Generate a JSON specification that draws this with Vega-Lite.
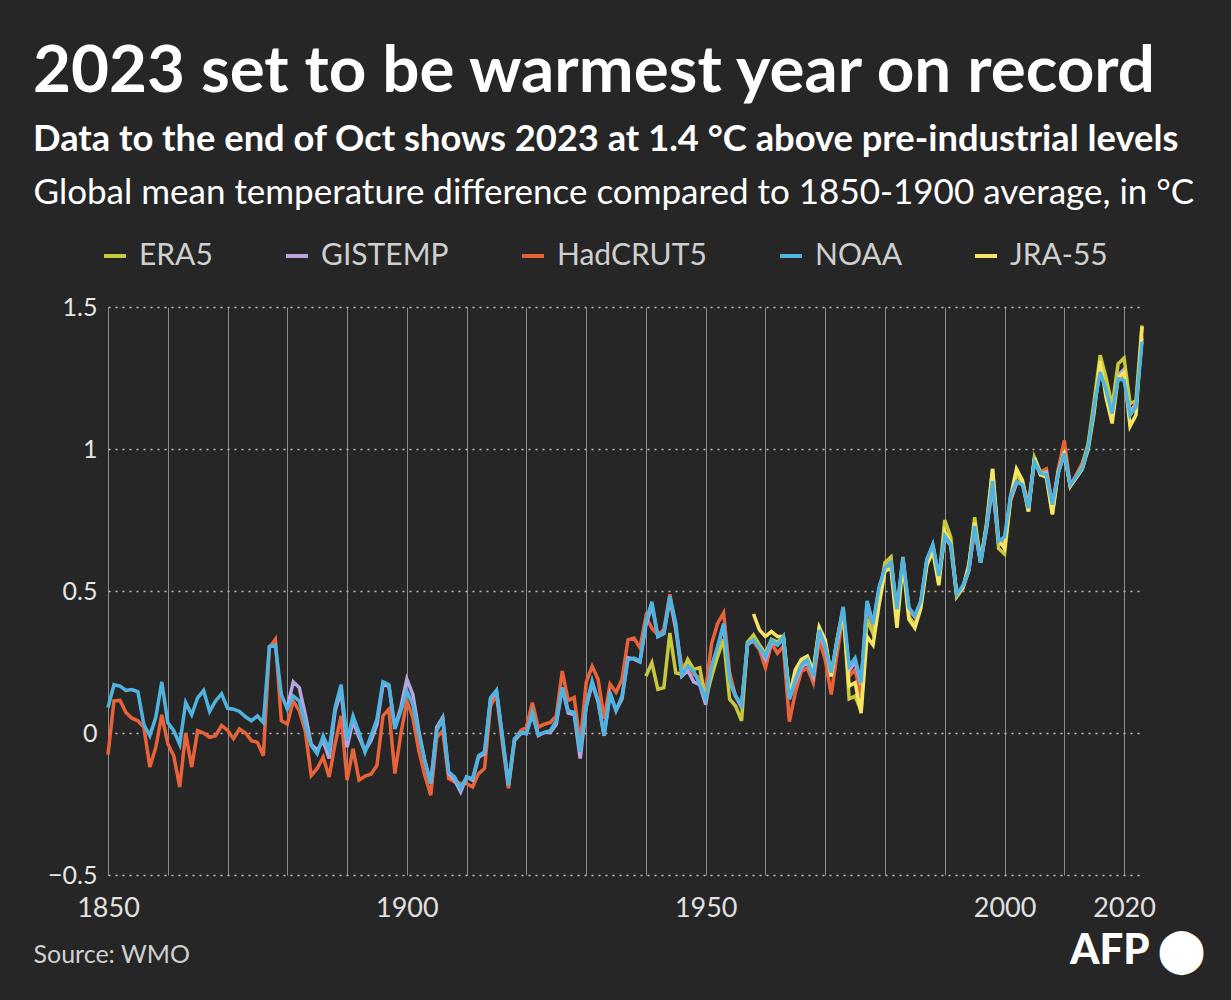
{
"$schema": "https://vega.github.io/schema/vega-lite/v6.json",
"width": 1034, "height": 568,
"autosize": {"type": "none"},
"padding": {"left": 108, "top": 307, "right": 89, "bottom": 125},
"background": "#262626",
"config": {"view": {"stroke": null}, "font": "Lato"},
"title": {"text": "2023 set to be warmest year on record", "subtitle": "Data to the end of Oct shows 2023 at 1.4 °C above pre-industrial levels", "anchor": "start", "frame": "bounds", "color": "white", "fontSize": 65.5, "fontWeight": "bold", "font": "Lato", "subtitleFont": "Lato", "subtitleColor": "white", "subtitleFontSize": 36.3, "subtitleFontWeight": "bold", "subtitlePadding": 16, "offset": 17},
"data": {"values": [
{"year":1850,"series":"HadCRUT5","value":-0.076},{"year":1851,"series":"HadCRUT5","value":0.113},{"year":1852,"series":"HadCRUT5","value":0.115},{"year":1853,"series":"HadCRUT5","value":0.072},{"year":1854,"series":"HadCRUT5","value":0.052},{"year":1855,"series":"HadCRUT5","value":0.043},{"year":1856,"series":"HadCRUT5","value":0.02},{"year":1857,"series":"HadCRUT5","value":-0.12},{"year":1858,"series":"HadCRUT5","value":-0.05},{"year":1859,"series":"HadCRUT5","value":0.064},
{"year":1860,"series":"HadCRUT5","value":-0.038},{"year":1861,"series":"HadCRUT5","value":-0.08},{"year":1862,"series":"HadCRUT5","value":-0.19},{"year":1863,"series":"HadCRUT5","value":0.0},{"year":1864,"series":"HadCRUT5","value":-0.12},{"year":1865,"series":"HadCRUT5","value":0.008},{"year":1866,"series":"HadCRUT5","value":0.0},{"year":1867,"series":"HadCRUT5","value":-0.015},{"year":1868,"series":"HadCRUT5","value":-0.01},{"year":1869,"series":"HadCRUT5","value":0.026},
{"year":1870,"series":"HadCRUT5","value":0.01},{"year":1871,"series":"HadCRUT5","value":-0.02},{"year":1872,"series":"HadCRUT5","value":0.014},{"year":1873,"series":"HadCRUT5","value":0.0},{"year":1874,"series":"HadCRUT5","value":-0.027},{"year":1875,"series":"HadCRUT5","value":-0.033},{"year":1876,"series":"HadCRUT5","value":-0.08},{"year":1877,"series":"HadCRUT5","value":0.3},{"year":1878,"series":"HadCRUT5","value":0.33},{"year":1879,"series":"HadCRUT5","value":0.043},
{"year":1880,"series":"HadCRUT5","value":0.031},{"year":1881,"series":"HadCRUT5","value":0.113},{"year":1882,"series":"HadCRUT5","value":0.078},{"year":1883,"series":"HadCRUT5","value":0.008},{"year":1884,"series":"HadCRUT5","value":-0.15},{"year":1885,"series":"HadCRUT5","value":-0.125},{"year":1886,"series":"HadCRUT5","value":-0.085},{"year":1887,"series":"HadCRUT5","value":-0.155},{"year":1888,"series":"HadCRUT5","value":-0.038},{"year":1889,"series":"HadCRUT5","value":0.06},
{"year":1890,"series":"HadCRUT5","value":-0.166},{"year":1891,"series":"HadCRUT5","value":-0.056},{"year":1892,"series":"HadCRUT5","value":-0.166},{"year":1893,"series":"HadCRUT5","value":-0.152},{"year":1894,"series":"HadCRUT5","value":-0.145},{"year":1895,"series":"HadCRUT5","value":-0.114},{"year":1896,"series":"HadCRUT5","value":0.06},{"year":1897,"series":"HadCRUT5","value":0.084},{"year":1898,"series":"HadCRUT5","value":-0.143},{"year":1899,"series":"HadCRUT5","value":-0.003},
{"year":1900,"series":"HadCRUT5","value":0.113},{"year":1901,"series":"HadCRUT5","value":0.055},{"year":1902,"series":"HadCRUT5","value":-0.062},{"year":1903,"series":"HadCRUT5","value":-0.149},{"year":1904,"series":"HadCRUT5","value":-0.219},{"year":1905,"series":"HadCRUT5","value":-0.015},{"year":1906,"series":"HadCRUT5","value":0.008},{"year":1907,"series":"HadCRUT5","value":-0.16},{"year":1908,"series":"HadCRUT5","value":-0.172},{"year":1909,"series":"HadCRUT5","value":-0.178},
{"year":1910,"series":"HadCRUT5","value":-0.178},{"year":1911,"series":"HadCRUT5","value":-0.19},{"year":1912,"series":"HadCRUT5","value":-0.143},{"year":1913,"series":"HadCRUT5","value":-0.125},{"year":1914,"series":"HadCRUT5","value":0.095},{"year":1915,"series":"HadCRUT5","value":0.136},{"year":1916,"series":"HadCRUT5","value":-0.038},{"year":1917,"series":"HadCRUT5","value":-0.195},{"year":1918,"series":"HadCRUT5","value":-0.027},{"year":1919,"series":"HadCRUT5","value":0.008},
{"year":1920,"series":"HadCRUT5","value":0.02},{"year":1921,"series":"HadCRUT5","value":0.107},{"year":1922,"series":"HadCRUT5","value":0.02},{"year":1923,"series":"HadCRUT5","value":0.031},{"year":1924,"series":"HadCRUT5","value":0.037},{"year":1925,"series":"HadCRUT5","value":0.06},{"year":1926,"series":"HadCRUT5","value":0.218},{"year":1927,"series":"HadCRUT5","value":0.114},{"year":1928,"series":"HadCRUT5","value":0.125},{"year":1929,"series":"HadCRUT5","value":-0.037},
{"year":1930,"series":"HadCRUT5","value":0.177},{"year":1931,"series":"HadCRUT5","value":0.235},{"year":1932,"series":"HadCRUT5","value":0.189},{"year":1933,"series":"HadCRUT5","value":0.05},{"year":1934,"series":"HadCRUT5","value":0.172},{"year":1935,"series":"HadCRUT5","value":0.143},{"year":1936,"series":"HadCRUT5","value":0.189},{"year":1937,"series":"HadCRUT5","value":0.328},{"year":1938,"series":"HadCRUT5","value":0.334},{"year":1939,"series":"HadCRUT5","value":0.3},
{"year":1940,"series":"HadCRUT5","value":0.41},{"year":1941,"series":"HadCRUT5","value":0.369},{"year":1942,"series":"HadCRUT5","value":0.346},{"year":1943,"series":"HadCRUT5","value":0.363},{"year":1944,"series":"HadCRUT5","value":0.488},{"year":1945,"series":"HadCRUT5","value":0.363},{"year":1946,"series":"HadCRUT5","value":0.235},{"year":1947,"series":"HadCRUT5","value":0.247},{"year":1948,"series":"HadCRUT5","value":0.206},{"year":1949,"series":"HadCRUT5","value":0.195},
{"year":1950,"series":"HadCRUT5","value":0.15},{"year":1951,"series":"HadCRUT5","value":0.316},{"year":1952,"series":"HadCRUT5","value":0.386},{"year":1953,"series":"HadCRUT5","value":0.423},{"year":1954,"series":"HadCRUT5","value":0.212},{"year":1955,"series":"HadCRUT5","value":0.13},{"year":1956,"series":"HadCRUT5","value":0.095},{"year":1957,"series":"HadCRUT5","value":0.316},{"year":1958,"series":"HadCRUT5","value":0.322},{"year":1959,"series":"HadCRUT5","value":0.293},
{"year":1960,"series":"HadCRUT5","value":0.229},{"year":1961,"series":"HadCRUT5","value":0.316},{"year":1962,"series":"HadCRUT5","value":0.281},{"year":1963,"series":"HadCRUT5","value":0.305},{"year":1964,"series":"HadCRUT5","value":0.04},{"year":1965,"series":"HadCRUT5","value":0.142},{"year":1966,"series":"HadCRUT5","value":0.217},{"year":1967,"series":"HadCRUT5","value":0.229},{"year":1968,"series":"HadCRUT5","value":0.177},{"year":1969,"series":"HadCRUT5","value":0.328},
{"year":1970,"series":"HadCRUT5","value":0.258},{"year":1971,"series":"HadCRUT5","value":0.136},{"year":1972,"series":"HadCRUT5","value":0.281},{"year":1973,"series":"HadCRUT5","value":0.415},{"year":1974,"series":"HadCRUT5","value":0.2},{"year":1975,"series":"HadCRUT5","value":0.223},{"year":1976,"series":"HadCRUT5","value":0.13},{"year":1977,"series":"HadCRUT5","value":0.44},{"year":1978,"series":"HadCRUT5","value":0.37},{"year":1979,"series":"HadCRUT5","value":0.49},
{"year":1980,"series":"HadCRUT5","value":0.57},{"year":1981,"series":"HadCRUT5","value":0.6},{"year":1982,"series":"HadCRUT5","value":0.4},{"year":1983,"series":"HadCRUT5","value":0.61},{"year":1984,"series":"HadCRUT5","value":0.43},{"year":1985,"series":"HadCRUT5","value":0.41},{"year":1986,"series":"HadCRUT5","value":0.46},{"year":1987,"series":"HadCRUT5","value":0.6},{"year":1988,"series":"HadCRUT5","value":0.66},{"year":1989,"series":"HadCRUT5","value":0.55},
{"year":1990,"series":"HadCRUT5","value":0.69},{"year":1991,"series":"HadCRUT5","value":0.66},{"year":1992,"series":"HadCRUT5","value":0.49},{"year":1993,"series":"HadCRUT5","value":0.51},{"year":1994,"series":"HadCRUT5","value":0.57},{"year":1995,"series":"HadCRUT5","value":0.72},{"year":1996,"series":"HadCRUT5","value":0.6},{"year":1997,"series":"HadCRUT5","value":0.73},{"year":1998,"series":"HadCRUT5","value":0.87},{"year":1999,"series":"HadCRUT5","value":0.67},
{"year":2000,"series":"HadCRUT5","value":0.68},{"year":2001,"series":"HadCRUT5","value":0.82},{"year":2002,"series":"HadCRUT5","value":0.88},{"year":2003,"series":"HadCRUT5","value":0.88},{"year":2004,"series":"HadCRUT5","value":0.81},{"year":2005,"series":"HadCRUT5","value":0.95},{"year":2006,"series":"HadCRUT5","value":0.92},{"year":2007,"series":"HadCRUT5","value":0.93},{"year":2008,"series":"HadCRUT5","value":0.8},{"year":2009,"series":"HadCRUT5","value":0.93},
{"year":2010,"series":"HadCRUT5","value":1.03},{"year":2011,"series":"HadCRUT5","value":0.87},{"year":2012,"series":"HadCRUT5","value":0.91},{"year":2013,"series":"HadCRUT5","value":0.95},{"year":2014,"series":"HadCRUT5","value":1.01},{"year":2015,"series":"HadCRUT5","value":1.15},{"year":2016,"series":"HadCRUT5","value":1.28},{"year":2017,"series":"HadCRUT5","value":1.21},{"year":2018,"series":"HadCRUT5","value":1.13},{"year":2019,"series":"HadCRUT5","value":1.25},
{"year":2020,"series":"HadCRUT5","value":1.26},{"year":2021,"series":"HadCRUT5","value":1.12},{"year":2022,"series":"HadCRUT5","value":1.15},{"year":2023,"series":"HadCRUT5","value":1.4},

{"year":1880,"series":"GISTEMP","value":0.09},{"year":1881,"series":"GISTEMP","value":0.18},{"year":1882,"series":"GISTEMP","value":0.16},{"year":1883,"series":"GISTEMP","value":0.066},{"year":1884,"series":"GISTEMP","value":-0.04},{"year":1885,"series":"GISTEMP","value":-0.06},{"year":1886,"series":"GISTEMP","value":-0.027},{"year":1887,"series":"GISTEMP","value":-0.09},{"year":1888,"series":"GISTEMP","value":0.078},{"year":1889,"series":"GISTEMP","value":0.148},
{"year":1890,"series":"GISTEMP","value":-0.05},{"year":1891,"series":"GISTEMP","value":0.043},{"year":1892,"series":"GISTEMP","value":-0.015},{"year":1893,"series":"GISTEMP","value":-0.062},{"year":1894,"series":"GISTEMP","value":-0.027},{"year":1895,"series":"GISTEMP","value":0.031},{"year":1896,"series":"GISTEMP","value":0.17},{"year":1897,"series":"GISTEMP","value":0.165},{"year":1898,"series":"GISTEMP","value":0.02},{"year":1899,"series":"GISTEMP","value":0.09},
{"year":1900,"series":"GISTEMP","value":0.19},{"year":1901,"series":"GISTEMP","value":0.136},{"year":1902,"series":"GISTEMP","value":0.008},{"year":1903,"series":"GISTEMP","value":-0.097},{"year":1904,"series":"GISTEMP","value":-0.178},{"year":1905,"series":"GISTEMP","value":0.02},{"year":1906,"series":"GISTEMP","value":0.055},{"year":1907,"series":"GISTEMP","value":-0.143},{"year":1908,"series":"GISTEMP","value":-0.166},{"year":1909,"series":"GISTEMP","value":-0.207},
{"year":1910,"series":"GISTEMP","value":-0.155},{"year":1911,"series":"GISTEMP","value":-0.166},{"year":1912,"series":"GISTEMP","value":-0.085},{"year":1913,"series":"GISTEMP","value":-0.073},{"year":1914,"series":"GISTEMP","value":0.118},{"year":1915,"series":"GISTEMP","value":0.148},{"year":1916,"series":"GISTEMP","value":-0.015},{"year":1917,"series":"GISTEMP","value":-0.184},{"year":1918,"series":"GISTEMP","value":-0.027},{"year":1919,"series":"GISTEMP","value":-0.003},
{"year":1920,"series":"GISTEMP","value":0.002},{"year":1921,"series":"GISTEMP","value":0.066},{"year":1922,"series":"GISTEMP","value":-0.009},{"year":1923,"series":"GISTEMP","value":0.002},{"year":1924,"series":"GISTEMP","value":0.002},{"year":1925,"series":"GISTEMP","value":0.031},{"year":1926,"series":"GISTEMP","value":0.16},{"year":1927,"series":"GISTEMP","value":0.07},{"year":1928,"series":"GISTEMP","value":0.065},{"year":1929,"series":"GISTEMP","value":-0.09},
{"year":1930,"series":"GISTEMP","value":0.09},{"year":1931,"series":"GISTEMP","value":0.175},{"year":1932,"series":"GISTEMP","value":0.11},{"year":1933,"series":"GISTEMP","value":-0.01},{"year":1934,"series":"GISTEMP","value":0.135},{"year":1935,"series":"GISTEMP","value":0.08},{"year":1936,"series":"GISTEMP","value":0.12},{"year":1937,"series":"GISTEMP","value":0.265},{"year":1938,"series":"GISTEMP","value":0.26},{"year":1939,"series":"GISTEMP","value":0.25},
{"year":1940,"series":"GISTEMP","value":0.38},{"year":1941,"series":"GISTEMP","value":0.45},{"year":1942,"series":"GISTEMP","value":0.34},{"year":1943,"series":"GISTEMP","value":0.35},{"year":1944,"series":"GISTEMP","value":0.47},{"year":1945,"series":"GISTEMP","value":0.37},{"year":1946,"series":"GISTEMP","value":0.2},{"year":1947,"series":"GISTEMP","value":0.22},{"year":1948,"series":"GISTEMP","value":0.18},{"year":1949,"series":"GISTEMP","value":0.17},
{"year":1950,"series":"GISTEMP","value":0.1},{"year":1951,"series":"GISTEMP","value":0.23},{"year":1952,"series":"GISTEMP","value":0.3},{"year":1953,"series":"GISTEMP","value":0.38},{"year":1954,"series":"GISTEMP","value":0.18},{"year":1955,"series":"GISTEMP","value":0.13},{"year":1956,"series":"GISTEMP","value":0.09},{"year":1957,"series":"GISTEMP","value":0.31},{"year":1958,"series":"GISTEMP","value":0.33},{"year":1959,"series":"GISTEMP","value":0.3},
{"year":1960,"series":"GISTEMP","value":0.26},{"year":1961,"series":"GISTEMP","value":0.32},{"year":1962,"series":"GISTEMP","value":0.31},{"year":1963,"series":"GISTEMP","value":0.33},{"year":1964,"series":"GISTEMP","value":0.12},{"year":1965,"series":"GISTEMP","value":0.18},{"year":1966,"series":"GISTEMP","value":0.23},{"year":1967,"series":"GISTEMP","value":0.25},{"year":1968,"series":"GISTEMP","value":0.2},{"year":1969,"series":"GISTEMP","value":0.35},
{"year":1970,"series":"GISTEMP","value":0.3},{"year":1971,"series":"GISTEMP","value":0.2},{"year":1972,"series":"GISTEMP","value":0.32},{"year":1973,"series":"GISTEMP","value":0.43},{"year":1974,"series":"GISTEMP","value":0.22},{"year":1975,"series":"GISTEMP","value":0.25},{"year":1976,"series":"GISTEMP","value":0.17},{"year":1977,"series":"GISTEMP","value":0.46},{"year":1978,"series":"GISTEMP","value":0.38},{"year":1979,"series":"GISTEMP","value":0.51},
{"year":1980,"series":"GISTEMP","value":0.58},{"year":1981,"series":"GISTEMP","value":0.61},{"year":1982,"series":"GISTEMP","value":0.43},{"year":1983,"series":"GISTEMP","value":0.61},{"year":1984,"series":"GISTEMP","value":0.44},{"year":1985,"series":"GISTEMP","value":0.41},{"year":1986,"series":"GISTEMP","value":0.46},{"year":1987,"series":"GISTEMP","value":0.61},{"year":1988,"series":"GISTEMP","value":0.66},{"year":1989,"series":"GISTEMP","value":0.55},
{"year":1990,"series":"GISTEMP","value":0.69},{"year":1991,"series":"GISTEMP","value":0.66},{"year":1992,"series":"GISTEMP","value":0.48},{"year":1993,"series":"GISTEMP","value":0.51},{"year":1994,"series":"GISTEMP","value":0.57},{"year":1995,"series":"GISTEMP","value":0.72},{"year":1996,"series":"GISTEMP","value":0.6},{"year":1997,"series":"GISTEMP","value":0.72},{"year":1998,"series":"GISTEMP","value":0.87},{"year":1999,"series":"GISTEMP","value":0.67},
{"year":2000,"series":"GISTEMP","value":0.66},{"year":2001,"series":"GISTEMP","value":0.82},{"year":2002,"series":"GISTEMP","value":0.88},{"year":2003,"series":"GISTEMP","value":0.88},{"year":2004,"series":"GISTEMP","value":0.8},{"year":2005,"series":"GISTEMP","value":0.96},{"year":2006,"series":"GISTEMP","value":0.91},{"year":2007,"series":"GISTEMP","value":0.92},{"year":2008,"series":"GISTEMP","value":0.8},{"year":2009,"series":"GISTEMP","value":0.92},
{"year":2010,"series":"GISTEMP","value":0.99},{"year":2011,"series":"GISTEMP","value":0.87},{"year":2012,"series":"GISTEMP","value":0.9},{"year":2013,"series":"GISTEMP","value":0.93},{"year":2014,"series":"GISTEMP","value":1.01},{"year":2015,"series":"GISTEMP","value":1.15},{"year":2016,"series":"GISTEMP","value":1.29},{"year":2017,"series":"GISTEMP","value":1.22},{"year":2018,"series":"GISTEMP","value":1.13},{"year":2019,"series":"GISTEMP","value":1.26},
{"year":2020,"series":"GISTEMP","value":1.28},{"year":2021,"series":"GISTEMP","value":1.13},{"year":2022,"series":"GISTEMP","value":1.16},{"year":2023,"series":"GISTEMP","value":1.39},

{"year":1940,"series":"ERA5","value":0.2},{"year":1941,"series":"ERA5","value":0.247},{"year":1942,"series":"ERA5","value":0.154},{"year":1943,"series":"ERA5","value":0.16},{"year":1944,"series":"ERA5","value":0.352},{"year":1945,"series":"ERA5","value":0.212},{"year":1946,"series":"ERA5","value":0.206},{"year":1947,"series":"ERA5","value":0.259},{"year":1948,"series":"ERA5","value":0.224},{"year":1949,"series":"ERA5","value":0.23},
{"year":1950,"series":"ERA5","value":0.12},{"year":1951,"series":"ERA5","value":0.2},{"year":1952,"series":"ERA5","value":0.27},{"year":1953,"series":"ERA5","value":0.33},{"year":1954,"series":"ERA5","value":0.12},{"year":1955,"series":"ERA5","value":0.095},{"year":1956,"series":"ERA5","value":0.043},{"year":1957,"series":"ERA5","value":0.32},{"year":1958,"series":"ERA5","value":0.345},{"year":1959,"series":"ERA5","value":0.31},
{"year":1960,"series":"ERA5","value":0.28},{"year":1961,"series":"ERA5","value":0.33},{"year":1962,"series":"ERA5","value":0.32},{"year":1963,"series":"ERA5","value":0.34},{"year":1964,"series":"ERA5","value":0.14},{"year":1965,"series":"ERA5","value":0.2},{"year":1966,"series":"ERA5","value":0.26},{"year":1967,"series":"ERA5","value":0.27},{"year":1968,"series":"ERA5","value":0.22},{"year":1969,"series":"ERA5","value":0.37},
{"year":1970,"series":"ERA5","value":0.32},{"year":1971,"series":"ERA5","value":0.2},{"year":1972,"series":"ERA5","value":0.33},{"year":1973,"series":"ERA5","value":0.44},{"year":1974,"series":"ERA5","value":0.12},{"year":1975,"series":"ERA5","value":0.13},{"year":1976,"series":"ERA5","value":0.078},{"year":1977,"series":"ERA5","value":0.4},{"year":1978,"series":"ERA5","value":0.35},{"year":1979,"series":"ERA5","value":0.48},
{"year":1980,"series":"ERA5","value":0.6},{"year":1981,"series":"ERA5","value":0.62},{"year":1982,"series":"ERA5","value":0.4},{"year":1983,"series":"ERA5","value":0.62},{"year":1984,"series":"ERA5","value":0.41},{"year":1985,"series":"ERA5","value":0.38},{"year":1986,"series":"ERA5","value":0.45},{"year":1987,"series":"ERA5","value":0.6},{"year":1988,"series":"ERA5","value":0.66},{"year":1989,"series":"ERA5","value":0.53},
{"year":1990,"series":"ERA5","value":0.75},{"year":1991,"series":"ERA5","value":0.69},{"year":1992,"series":"ERA5","value":0.48},{"year":1993,"series":"ERA5","value":0.51},{"year":1994,"series":"ERA5","value":0.58},{"year":1995,"series":"ERA5","value":0.76},{"year":1996,"series":"ERA5","value":0.6},{"year":1997,"series":"ERA5","value":0.74},{"year":1998,"series":"ERA5","value":0.93},{"year":1999,"series":"ERA5","value":0.65},
{"year":2000,"series":"ERA5","value":0.63},{"year":2001,"series":"ERA5","value":0.82},{"year":2002,"series":"ERA5","value":0.91},{"year":2003,"series":"ERA5","value":0.88},{"year":2004,"series":"ERA5","value":0.78},{"year":2005,"series":"ERA5","value":0.97},{"year":2006,"series":"ERA5","value":0.92},{"year":2007,"series":"ERA5","value":0.91},{"year":2008,"series":"ERA5","value":0.77},{"year":2009,"series":"ERA5","value":0.92},
{"year":2010,"series":"ERA5","value":0.99},{"year":2011,"series":"ERA5","value":0.87},{"year":2012,"series":"ERA5","value":0.9},{"year":2013,"series":"ERA5","value":0.94},{"year":2014,"series":"ERA5","value":1.02},{"year":2015,"series":"ERA5","value":1.17},{"year":2016,"series":"ERA5","value":1.33},{"year":2017,"series":"ERA5","value":1.25},{"year":2018,"series":"ERA5","value":1.15},{"year":2019,"series":"ERA5","value":1.3},
{"year":2020,"series":"ERA5","value":1.32},{"year":2021,"series":"ERA5","value":1.16},{"year":2022,"series":"ERA5","value":1.17},{"year":2023,"series":"ERA5","value":1.435},

{"year":1958,"series":"JRA-55","value":0.419},{"year":1959,"series":"JRA-55","value":0.363},
{"year":1960,"series":"JRA-55","value":0.34},{"year":1961,"series":"JRA-55","value":0.357},{"year":1962,"series":"JRA-55","value":0.34},{"year":1963,"series":"JRA-55","value":0.34},{"year":1964,"series":"JRA-55","value":0.13},{"year":1965,"series":"JRA-55","value":0.223},{"year":1966,"series":"JRA-55","value":0.258},{"year":1967,"series":"JRA-55","value":0.27},{"year":1968,"series":"JRA-55","value":0.212},{"year":1969,"series":"JRA-55","value":0.372},
{"year":1970,"series":"JRA-55","value":0.328},{"year":1971,"series":"JRA-55","value":0.2},{"year":1972,"series":"JRA-55","value":0.328},{"year":1973,"series":"JRA-55","value":0.427},{"year":1974,"series":"JRA-55","value":0.165},{"year":1975,"series":"JRA-55","value":0.177},{"year":1976,"series":"JRA-55","value":0.07},{"year":1977,"series":"JRA-55","value":0.34},{"year":1978,"series":"JRA-55","value":0.31},{"year":1979,"series":"JRA-55","value":0.45},
{"year":1980,"series":"JRA-55","value":0.57},{"year":1981,"series":"JRA-55","value":0.58},{"year":1982,"series":"JRA-55","value":0.37},{"year":1983,"series":"JRA-55","value":0.6},{"year":1984,"series":"JRA-55","value":0.4},{"year":1985,"series":"JRA-55","value":0.37},{"year":1986,"series":"JRA-55","value":0.44},{"year":1987,"series":"JRA-55","value":0.59},{"year":1988,"series":"JRA-55","value":0.64},{"year":1989,"series":"JRA-55","value":0.52},
{"year":1990,"series":"JRA-55","value":0.71},{"year":1991,"series":"JRA-55","value":0.67},{"year":1992,"series":"JRA-55","value":0.49},{"year":1993,"series":"JRA-55","value":0.51},{"year":1994,"series":"JRA-55","value":0.59},{"year":1995,"series":"JRA-55","value":0.74},{"year":1996,"series":"JRA-55","value":0.61},{"year":1997,"series":"JRA-55","value":0.73},{"year":1998,"series":"JRA-55","value":0.93},{"year":1999,"series":"JRA-55","value":0.68},
{"year":2000,"series":"JRA-55","value":0.65},{"year":2001,"series":"JRA-55","value":0.83},{"year":2002,"series":"JRA-55","value":0.93},{"year":2003,"series":"JRA-55","value":0.89},{"year":2004,"series":"JRA-55","value":0.78},{"year":2005,"series":"JRA-55","value":0.97},{"year":2006,"series":"JRA-55","value":0.91},{"year":2007,"series":"JRA-55","value":0.9},{"year":2008,"series":"JRA-55","value":0.77},{"year":2009,"series":"JRA-55","value":0.92},
{"year":2010,"series":"JRA-55","value":0.98},{"year":2011,"series":"JRA-55","value":0.87},{"year":2012,"series":"JRA-55","value":0.9},{"year":2013,"series":"JRA-55","value":0.93},{"year":2014,"series":"JRA-55","value":1.0},{"year":2015,"series":"JRA-55","value":1.13},{"year":2016,"series":"JRA-55","value":1.31},{"year":2017,"series":"JRA-55","value":1.18},{"year":2018,"series":"JRA-55","value":1.09},{"year":2019,"series":"JRA-55","value":1.25},
{"year":2020,"series":"JRA-55","value":1.27},{"year":2021,"series":"JRA-55","value":1.08},{"year":2022,"series":"JRA-55","value":1.12},{"year":2023,"series":"JRA-55","value":1.43},

{"year":1850,"series":"NOAA","value":0.09},{"year":1851,"series":"NOAA","value":0.17},{"year":1852,"series":"NOAA","value":0.165},{"year":1853,"series":"NOAA","value":0.15},{"year":1854,"series":"NOAA","value":0.153},{"year":1855,"series":"NOAA","value":0.145},{"year":1856,"series":"NOAA","value":0.03},{"year":1857,"series":"NOAA","value":-0.01},{"year":1858,"series":"NOAA","value":0.055},{"year":1859,"series":"NOAA","value":0.18},
{"year":1860,"series":"NOAA","value":0.037},{"year":1861,"series":"NOAA","value":0.008},{"year":1862,"series":"NOAA","value":-0.04},{"year":1863,"series":"NOAA","value":0.107},{"year":1864,"series":"NOAA","value":0.064},{"year":1865,"series":"NOAA","value":0.124},{"year":1866,"series":"NOAA","value":0.15},{"year":1867,"series":"NOAA","value":0.076},{"year":1868,"series":"NOAA","value":0.113},{"year":1869,"series":"NOAA","value":0.138},
{"year":1870,"series":"NOAA","value":0.087},{"year":1871,"series":"NOAA","value":0.084},{"year":1872,"series":"NOAA","value":0.076},{"year":1873,"series":"NOAA","value":0.057},{"year":1874,"series":"NOAA","value":0.043},{"year":1875,"series":"NOAA","value":0.06},{"year":1876,"series":"NOAA","value":0.037},{"year":1877,"series":"NOAA","value":0.305},{"year":1878,"series":"NOAA","value":0.31},{"year":1879,"series":"NOAA","value":0.136},
{"year":1880,"series":"NOAA","value":0.084},{"year":1881,"series":"NOAA","value":0.13},{"year":1882,"series":"NOAA","value":0.113},{"year":1883,"series":"NOAA","value":0.031},{"year":1884,"series":"NOAA","value":-0.044},{"year":1885,"series":"NOAA","value":-0.073},{"year":1886,"series":"NOAA","value":-0.01},{"year":1887,"series":"NOAA","value":-0.06},{"year":1888,"series":"NOAA","value":0.09},{"year":1889,"series":"NOAA","value":0.17},
{"year":1890,"series":"NOAA","value":-0.027},{"year":1891,"series":"NOAA","value":0.06},{"year":1892,"series":"NOAA","value":0.002},{"year":1893,"series":"NOAA","value":-0.067},{"year":1894,"series":"NOAA","value":-0.01},{"year":1895,"series":"NOAA","value":0.049},{"year":1896,"series":"NOAA","value":0.18},{"year":1897,"series":"NOAA","value":0.17},{"year":1898,"series":"NOAA","value":0.014},{"year":1899,"series":"NOAA","value":0.078},
{"year":1900,"series":"NOAA","value":0.148},{"year":1901,"series":"NOAA","value":0.1},{"year":1902,"series":"NOAA","value":-0.003},{"year":1903,"series":"NOAA","value":-0.097},{"year":1904,"series":"NOAA","value":-0.178},{"year":1905,"series":"NOAA","value":0.008},{"year":1906,"series":"NOAA","value":0.049},{"year":1907,"series":"NOAA","value":-0.137},{"year":1908,"series":"NOAA","value":-0.155},{"year":1909,"series":"NOAA","value":-0.195},
{"year":1910,"series":"NOAA","value":-0.155},{"year":1911,"series":"NOAA","value":-0.16},{"year":1912,"series":"NOAA","value":-0.08},{"year":1913,"series":"NOAA","value":-0.067},{"year":1914,"series":"NOAA","value":0.124},{"year":1915,"series":"NOAA","value":0.15},{"year":1916,"series":"NOAA","value":-0.015},{"year":1917,"series":"NOAA","value":-0.184},{"year":1918,"series":"NOAA","value":-0.02},{"year":1919,"series":"NOAA","value":0.002},
{"year":1920,"series":"NOAA","value":-0.003},{"year":1921,"series":"NOAA","value":0.072},{"year":1922,"series":"NOAA","value":-0.006},{"year":1923,"series":"NOAA","value":0.002},{"year":1924,"series":"NOAA","value":0.008},{"year":1925,"series":"NOAA","value":0.043},{"year":1926,"series":"NOAA","value":0.16},{"year":1927,"series":"NOAA","value":0.079},{"year":1928,"series":"NOAA","value":0.073},{"year":1929,"series":"NOAA","value":-0.066},
{"year":1930,"series":"NOAA","value":0.096},{"year":1931,"series":"NOAA","value":0.183},{"year":1932,"series":"NOAA","value":0.114},{"year":1933,"series":"NOAA","value":-0.008},{"year":1934,"series":"NOAA","value":0.143},{"year":1935,"series":"NOAA","value":0.079},{"year":1936,"series":"NOAA","value":0.131},{"year":1937,"series":"NOAA","value":0.259},{"year":1938,"series":"NOAA","value":0.264},{"year":1939,"series":"NOAA","value":0.253},
{"year":1940,"series":"NOAA","value":0.392},{"year":1941,"series":"NOAA","value":0.462},{"year":1942,"series":"NOAA","value":0.34},{"year":1943,"series":"NOAA","value":0.352},{"year":1944,"series":"NOAA","value":0.481},{"year":1945,"series":"NOAA","value":0.386},{"year":1946,"series":"NOAA","value":0.206},{"year":1947,"series":"NOAA","value":0.235},{"year":1948,"series":"NOAA","value":0.218},{"year":1949,"series":"NOAA","value":0.172},
{"year":1950,"series":"NOAA","value":0.12},{"year":1951,"series":"NOAA","value":0.235},{"year":1952,"series":"NOAA","value":0.305},{"year":1953,"series":"NOAA","value":0.386},{"year":1954,"series":"NOAA","value":0.188},{"year":1955,"series":"NOAA","value":0.13},{"year":1956,"series":"NOAA","value":0.1},{"year":1957,"series":"NOAA","value":0.316},{"year":1958,"series":"NOAA","value":0.328},{"year":1959,"series":"NOAA","value":0.3},
{"year":1960,"series":"NOAA","value":0.27},{"year":1961,"series":"NOAA","value":0.328},{"year":1962,"series":"NOAA","value":0.31},{"year":1963,"series":"NOAA","value":0.34},{"year":1964,"series":"NOAA","value":0.119},{"year":1965,"series":"NOAA","value":0.188},{"year":1966,"series":"NOAA","value":0.24},{"year":1967,"series":"NOAA","value":0.258},{"year":1968,"series":"NOAA","value":0.2},{"year":1969,"series":"NOAA","value":0.363},
{"year":1970,"series":"NOAA","value":0.305},{"year":1971,"series":"NOAA","value":0.212},{"year":1972,"series":"NOAA","value":0.328},{"year":1973,"series":"NOAA","value":0.444},{"year":1974,"series":"NOAA","value":0.235},{"year":1975,"series":"NOAA","value":0.264},{"year":1976,"series":"NOAA","value":0.178},{"year":1977,"series":"NOAA","value":0.465},{"year":1978,"series":"NOAA","value":0.383},{"year":1979,"series":"NOAA","value":0.512},
{"year":1980,"series":"NOAA","value":0.582},{"year":1981,"series":"NOAA","value":0.6},{"year":1982,"series":"NOAA","value":0.436},{"year":1983,"series":"NOAA","value":0.617},{"year":1984,"series":"NOAA","value":0.442},{"year":1985,"series":"NOAA","value":0.413},{"year":1986,"series":"NOAA","value":0.465},{"year":1987,"series":"NOAA","value":0.611},{"year":1988,"series":"NOAA","value":0.664},{"year":1989,"series":"NOAA","value":0.553},
{"year":1990,"series":"NOAA","value":0.694},{"year":1991,"series":"NOAA","value":0.664},{"year":1992,"series":"NOAA","value":0.489},{"year":1993,"series":"NOAA","value":0.518},{"year":1994,"series":"NOAA","value":0.571},{"year":1995,"series":"NOAA","value":0.729},{"year":1996,"series":"NOAA","value":0.6},{"year":1997,"series":"NOAA","value":0.729},{"year":1998,"series":"NOAA","value":0.887},{"year":1999,"series":"NOAA","value":0.675},
{"year":2000,"series":"NOAA","value":0.69},{"year":2001,"series":"NOAA","value":0.833},{"year":2002,"series":"NOAA","value":0.885},{"year":2003,"series":"NOAA","value":0.874},{"year":2004,"series":"NOAA","value":0.792},{"year":2005,"series":"NOAA","value":0.956},{"year":2006,"series":"NOAA","value":0.915},{"year":2007,"series":"NOAA","value":0.909},{"year":2008,"series":"NOAA","value":0.804},{"year":2009,"series":"NOAA","value":0.915},
{"year":2010,"series":"NOAA","value":0.985},{"year":2011,"series":"NOAA","value":0.874},{"year":2012,"series":"NOAA","value":0.903},{"year":2013,"series":"NOAA","value":0.932},{"year":2014,"series":"NOAA","value":1.008},{"year":2015,"series":"NOAA","value":1.149},{"year":2016,"series":"NOAA","value":1.271},{"year":2017,"series":"NOAA","value":1.207},{"year":2018,"series":"NOAA","value":1.125},{"year":2019,"series":"NOAA","value":1.248},
{"year":2020,"series":"NOAA","value":1.242},{"year":2021,"series":"NOAA","value":1.119},{"year":2022,"series":"NOAA","value":1.149},{"year":2023,"series":"NOAA","value":1.377}
]},
"encoding": {
  "y": {"field": "value", "type": "quantitative", "scale": {"domain": [-0.5, 1.5], "nice": false, "zero": false},
    "axis": {"values": [-0.5, 0, 0.5, 1, 1.5], "format": "~g", "grid": true, "gridDash": [2, 5], "gridColor": "#bdbdbd", "gridWidth": 1.5, "domain": false, "ticks": false, "labelPadding": 11, "labelFontSize": 25, "labelColor": "#e6e6e6", "labelFont": "Lato",
      "title": "Global mean temperature difference compared to 1850-1900 average, in °C", "titleAngle": 0, "titleAlign": "left", "titleBaseline": "alphabetic", "titleX": -75, "titleY": -104, "titleFontSize": 35, "titleFontWeight": "normal", "titleFont": "Lato", "titleColor": "white"}},
  "color": {"field": "series", "type": "nominal",
    "scale": {"domain": ["ERA5", "GISTEMP", "HadCRUT5", "NOAA", "JRA-55"], "range": ["#c8c83c", "#b9a3e3", "#e8633a", "#4fb3df", "#f7e463"]},
    "legend": {"orient": "none", "legendX": -8, "legendY": -66, "direction": "horizontal", "title": null, "labelFontSize": 30, "labelFont": "Lato", "labelColor": "#cfcfcf", "symbolType": "stroke", "symbolSize": 484, "symbolStrokeWidth": 4, "labelOffset": 9, "columnPadding": 65}}
},
"layer": [
  {"transform": [{"filter": "datum.series != 'NOAA'"}],
   "mark": {"type": "line", "strokeWidth": 3.5},
   "encoding": {"x": {"field": "year", "type": "quantitative", "scale": {"domain": [1850, 2023], "nice": false, "zero": false},
     "axis": {"values": [1850, 1860, 1870, 1880, 1890, 1900, 1910, 1920, 1930, 1940, 1950, 1960, 1970, 1980, 1990, 2000, 2010, 2020], "labelExpr": "indexof([1850, 1900, 1950, 2000, 2020], datum.value) >= 0 ? toString(datum.value) : ''", "labelFlush": false, "labelOverlap": false, "grid": true, "gridColor": "#8c8c8c", "gridWidth": 1, "domain": false, "ticks": false, "labelColor": "#e0e0e0", "labelFontSize": 27, "labelFont": "Lato", "labelPadding": 20,
       "title": "Source: WMO", "titleX": -75, "titleY": 79, "titleAlign": "left", "titleBaseline": "middle", "titleFontSize": 25, "titleFontWeight": "normal", "titleFont": "Lato", "titleColor": "#d0d0d0"}}}},
  {"transform": [{"filter": "datum.series == 'NOAA'"}],
   "mark": {"type": "line", "strokeWidth": 3.5},
   "encoding": {"x": {"field": "year", "type": "quantitative", "scale": {"domain": [1850, 2023], "nice": false, "zero": false},
     "axis": {"orient": "top", "labels": false, "ticks": false, "domain": false, "grid": false, "title": "AFP ⬤", "titleX": 1097, "titleY": 643, "titleAlign": "right", "titleBaseline": "middle", "titleFontSize": 42, "titleFontWeight": 900, "titleFont": "Lato", "titleColor": "white"}}}}
],
"resolve": {"axis": {"x": "independent"}}
}
